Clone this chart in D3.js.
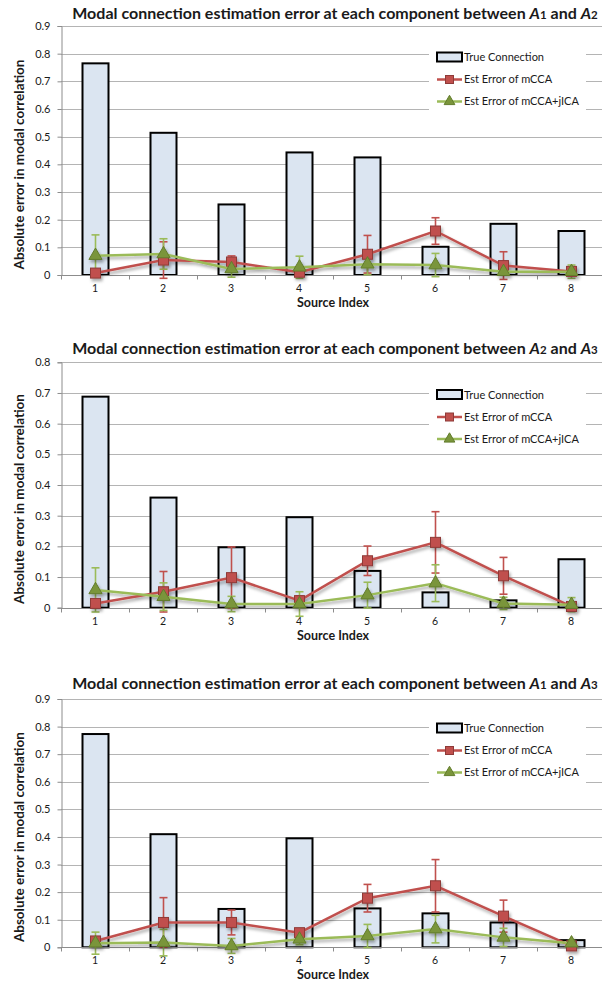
<!DOCTYPE html>
<html>
<head>
<meta charset="utf-8">
<script src="https://cdn.jsdelivr.net/npm/d3@7/dist/d3.min.js"></script>
<style>
  html, body { margin: 0; padding: 0; background: #fff; }
  svg { display: block; font-family: Lato, "Open Sans", sans-serif; }
</style>
</head>
<body>
<svg id="chart" width="602" height="984"></svg>
<script>
// Source components on the x axis
const sources = ["1", "2", "3", "4", "5", "6", "7", "8"];
const legendLabels = ["True Connection", "Est Error of mCCA", "Est Error of mCCA+jICA"];
const yTicks09 = [0, 0.1, 0.2, 0.3, 0.4, 0.5, 0.6, 0.7, 0.8, 0.9];
const yTicks08 = [0, 0.1, 0.2, 0.3, 0.4, 0.5, 0.6, 0.7, 0.8];

// A1 vs A2
const trueA12    = [0.765, 0.514, 0.255, 0.443, 0.425, 0.102, 0.185, 0.159];
const mccaA12    = [0.007, 0.054, 0.047, 0.010, 0.075, 0.159, 0.034, 0.013];
const mccaErrA12 = [0.006, 0.066, 0.022, 0.008, 0.068, 0.048, 0.050, 0.008];
const jicaA12    = [0.070, 0.076, 0.022, 0.028, 0.039, 0.036, 0.012, 0.012];
const jicaErrA12 = [0.075, 0.055, 0.030, 0.040, 0.038, 0.042, 0.010, 0.024];

// A2 vs A3
const trueA23    = [0.688, 0.359, 0.197, 0.295, 0.120, 0.050, 0.024, 0.158];
const mccaA23    = [0.014, 0.052, 0.098, 0.023, 0.153, 0.213, 0.104, 0.004];
const mccaErrA23 = [0.010, 0.066, 0.100, 0.015, 0.048, 0.100, 0.060, 0.006];
const jicaA23    = [0.058, 0.036, 0.012, 0.012, 0.041, 0.080, 0.014, 0.010];
const jicaErrA23 = [0.072, 0.045, 0.025, 0.040, 0.042, 0.060, 0.020, 0.023];

// A1 vs A3
const trueA13    = [0.773, 0.410, 0.139, 0.395, 0.141, 0.123, 0.090, 0.026];
const mccaA13    = [0.023, 0.090, 0.090, 0.053, 0.178, 0.223, 0.113, 0.005];
const mccaErrA13 = [0.008, 0.090, 0.045, 0.010, 0.050, 0.095, 0.058, 0.006];
const jicaA13    = [0.015, 0.017, 0.005, 0.029, 0.041, 0.066, 0.036, 0.015];
const jicaErrA13 = [0.040, 0.048, 0.027, 0.020, 0.042, 0.050, 0.033, 0.010];

const panels = [
  { pair: ["1", "2"], ticks: yTicks09, bars: trueA12, mcca: mccaA12, mccaErr: mccaErrA12, jica: jicaA12, jicaErr: jicaErrA12,
    top: 26, bottom: 275, titleY: 19, legendY: 57 },
  { pair: ["2", "3"], ticks: yTicks08, bars: trueA23, mcca: mccaA23, mccaErr: mccaErrA23, jica: jicaA23, jicaErr: jicaErrA23,
    top: 362.3, bottom: 607.7, titleY: 353.5, legendY: 394.5 },
  { pair: ["1", "3"], ticks: yTicks09, bars: trueA13, mcca: mccaA13, mccaErr: mccaErrA13, jica: jicaA13, jicaErr: jicaErrA13,
    top: 699, bottom: 947.3, titleY: 688.5, legendY: 728 }
];

const RED = "#c0504d", RED_DARK = "#8e3a38";
const GREEN = "#9bbb59", GREEN_DARK = "#627c2c";
const BAR_FILL = "#dbe5f1";
const GRID = "#b4b4b4";
const TEXT = "#1a1a1a";

const svg = d3.select("#chart");
const defs = svg.append("defs");
defs.append("filter").attr("id", "shadow")
  .attr("x", "-10%").attr("y", "-10%").attr("width", "130%").attr("height", "140%")
  .append("feDropShadow")
  .attr("dx", 1.5).attr("dy", 2.5).attr("stdDeviation", 1.6)
  .attr("flood-color", "#000").attr("flood-opacity", 0.35);

const plotLeft = 61, band = 68;
const x = d3.scaleBand().domain(sources).range([plotLeft, plotLeft + band * sources.length]).padding(0);

const triangle = d3.symbol().type(d3.symbolTriangle).size(75);

panels.forEach(p => {
  const yMax = p.ticks[p.ticks.length - 1];
  const y = d3.scaleLinear().domain([0, yMax]).range([p.bottom, p.top]);
  const g = svg.append("g");
  const xr = x.range();

  // title
  const t = g.append("text")
    .attr("x", 335).attr("y", p.titleY)
    .attr("text-anchor", "middle")
    .attr("font-size", 16).attr("font-weight", "bold").attr("fill", TEXT);
  t.append("tspan").text("Modal connection estimation error at each component between ");
  t.append("tspan").attr("font-style", "italic").text("A");
  t.append("tspan").attr("font-size", 11.5).text(p.pair[0]);
  t.append("tspan").text(" and ");
  t.append("tspan").attr("font-style", "italic").text("A");
  t.append("tspan").attr("font-size", 11.5).text(p.pair[1]);

  // horizontal gridlines
  g.append("g").selectAll("line").data(p.ticks.filter(v => v > 0)).join("line")
    .attr("x1", xr[0]).attr("x2", xr[1])
    .attr("y1", d => Math.round(y(d)) + 0.5).attr("y2", d => Math.round(y(d)) + 0.5)
    .attr("stroke", GRID).attr("stroke-width", 1);

  // y axis
  const yAxis = g.append("g").attr("transform", `translate(${xr[0] + 0.5},0)`)
    .call(d3.axisLeft(y).tickValues(p.ticks).tickFormat(d => d === 0 ? "0" : d3.format(".1f")(d)).tickSizeOuter(0).tickSize(4));
  yAxis.select(".domain").attr("stroke", "#8c8c8c");
  yAxis.selectAll(".tick line").attr("stroke", "#8c8c8c");
  yAxis.selectAll(".tick text").attr("font-size", 11).attr("fill", TEXT).attr("x", -11)
    .attr("font-family", "Lato, sans-serif");

  // y axis title
  g.append("text")
    .attr("transform", `translate(24,${(p.top + p.bottom) / 2 + 14}) rotate(-90)`)
    .attr("text-anchor", "middle").attr("font-size", 13.5).attr("font-weight", "bold").attr("fill", TEXT)
    .text("Absolute error in modal correlation");

  // legend background hides gridlines behind it
  g.append("rect")
    .attr("x", 429).attr("y", p.legendY - 13).attr("width", 157).attr("height", 72)
    .attr("fill", "#fff");

  // bars
  const bw = 26;
  g.append("g").selectAll("rect").data(p.bars).join("rect")
    .attr("x", (d, i) => x(sources[i]) + band / 2 - bw / 2 + 0.5)
    .attr("y", d => y(d))
    .attr("width", bw)
    .attr("height", d => y(0) - y(d))
    .attr("fill", BAR_FILL).attr("stroke", "#000").attr("stroke-width", 2);

  // x axis
  const xAxis = g.append("g").attr("transform", `translate(0,${Math.round(y(0)) + 0.5})`);
  xAxis.append("line").attr("x1", xr[0]).attr("x2", xr[1]).attr("stroke", "#8c8c8c");
  xAxis.selectAll("line.tk").data(d3.range(sources.length + 1)).join("line").attr("class", "tk")
    .attr("x1", i => xr[0] + i * band + 0.5).attr("x2", i => xr[0] + i * band + 0.5)
    .attr("y1", 0).attr("y2", 4).attr("stroke", "#8c8c8c");
  xAxis.selectAll("text").data(sources).join("text")
    .attr("x", d => x(d) + band / 2).attr("y", 16.5)
    .attr("text-anchor", "middle").attr("font-size", 10.5).attr("fill", TEXT).text(d => d);
  g.append("text").attr("x", 333).attr("y", p.bottom + 32)
    .attr("text-anchor", "middle").attr("font-size", 12.5).attr("font-weight", "bold").attr("fill", TEXT)
    .text("Source Index");

  const cx = i => x(sources[i]) + band / 2 + 0.5;

  // error bars
  const drawErr = (vals, errs, color) => {
    const eg = g.append("g").attr("stroke", color).attr("stroke-width", 1.6);
    vals.forEach((v, i) => {
      const lo = y(v - errs[i]), hi = y(v + errs[i]);
      eg.append("line").attr("x1", cx(i)).attr("x2", cx(i)).attr("y1", lo).attr("y2", hi);
      eg.append("line").attr("x1", cx(i) - 4).attr("x2", cx(i) + 4).attr("y1", lo).attr("y2", lo);
      eg.append("line").attr("x1", cx(i) - 4).attr("x2", cx(i) + 4).attr("y1", hi).attr("y2", hi);
    });
  };
  drawErr(p.mcca, p.mccaErr, RED);
  drawErr(p.jica, p.jicaErr, GREEN);

  const line = d3.line().x((d, i) => cx(i)).y(d => y(d));
  const sg = g.append("g").attr("filter", "url(#shadow)");

  sg.append("path").datum(p.mcca).attr("d", line)
    .attr("fill", "none").attr("stroke", RED).attr("stroke-width", 2.5);
  sg.selectAll("rect.m").data(p.mcca).join("rect").attr("class", "m")
    .attr("x", (d, i) => cx(i) - 5).attr("y", d => y(d) - 5)
    .attr("width", 10).attr("height", 10)
    .attr("fill", RED).attr("stroke", RED_DARK).attr("stroke-width", 1);

  sg.append("path").datum(p.jica).attr("d", line)
    .attr("fill", "none").attr("stroke", GREEN).attr("stroke-width", 2.5);
  sg.selectAll("path.t").data(p.jica).join("path").attr("class", "t")
    .attr("transform", (d, i) => `translate(${cx(i)},${y(d)})`)
    .attr("d", triangle)
    .attr("fill", "#7a953b").attr("stroke", GREEN_DARK).attr("stroke-width", 1);

  // legend
  const lg = g.append("g");
  const lx0 = 437, lx1 = 462, ltx = 464;
  lg.append("rect").attr("x", lx0).attr("y", p.legendY - 4.5).attr("width", lx1 - lx0).attr("height", 9)
    .attr("fill", BAR_FILL).attr("stroke", "#000").attr("stroke-width", 2);
  const ry = p.legendY + 22.5, gy = p.legendY + 44.5;
  lg.append("line").attr("x1", lx0).attr("x2", lx1).attr("y1", ry).attr("y2", ry)
    .attr("stroke", RED).attr("stroke-width", 2.5);
  lg.append("rect").attr("x", (lx0 + lx1) / 2 - 4).attr("y", ry - 4).attr("width", 8).attr("height", 8)
    .attr("fill", RED).attr("stroke", RED_DARK);
  lg.append("line").attr("x1", lx0).attr("x2", lx1).attr("y1", gy).attr("y2", gy)
    .attr("stroke", GREEN).attr("stroke-width", 2.5);
  lg.append("path").attr("transform", `translate(${(lx0 + lx1) / 2},${gy})`)
    .attr("d", d3.symbol().type(d3.symbolTriangle).size(50))
    .attr("fill", "#7a953b").attr("stroke", GREEN_DARK);
  lg.selectAll("text").data(legendLabels).join("text")
    .attr("x", ltx).attr("y", (d, i) => p.legendY + i * 22 + 4)
    .attr("font-size", 11).attr("fill", TEXT).text(d => d);
});
</script>
</body>
</html>
